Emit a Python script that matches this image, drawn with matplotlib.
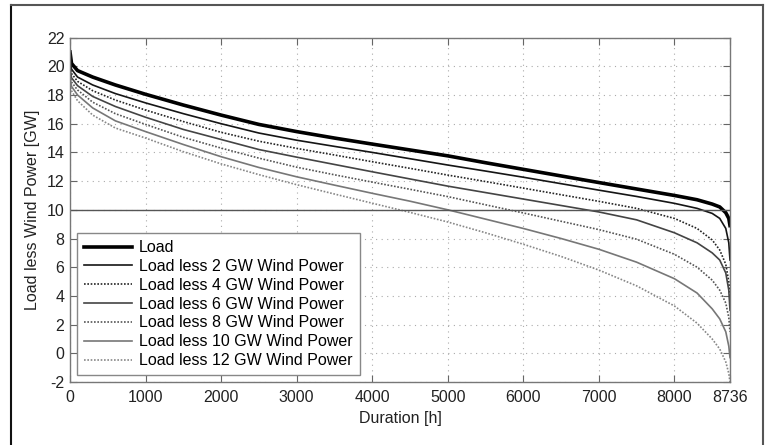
import matplotlib
matplotlib.use("Agg")
import matplotlib.pyplot as plt
from matplotlib.lines import Line2D

plt.rcParams['font.family'] = ['Liberation Sans', 'DejaVu Sans']
plt.rcParams['axes.unicode_minus'] = False

hours = [0, 20, 100, 300, 600, 1000, 1500, 2000, 2500, 3000, 3500, 4000, 4500,
         5000, 5500, 6000, 6500, 7000, 7500, 8000, 8300, 8500, 8600, 8680, 8720, 8736]

load = [21.0, 20.2, 19.7, 19.25, 18.7, 18.05, 17.3, 16.6, 15.95, 15.45, 15.0, 14.58, 14.17,
        13.76, 13.28, 12.82, 12.36, 11.9, 11.45, 11.0, 10.7, 10.4, 10.2, 9.8, 9.4, 8.9]
less2 = [20.5, 19.8, 19.25, 18.7, 18.1, 17.45, 16.7, 16.0, 15.35, 14.85, 14.42, 14.0, 13.56,
         13.12, 12.7, 12.27, 11.82, 11.37, 10.93, 10.45, 10.1, 9.75, 9.4, 8.7, 7.7, 6.5]
less4 = [20.2, 19.5, 18.95, 18.3, 17.65, 16.95, 16.15, 15.4, 14.78, 14.28, 13.82, 13.35, 12.89,
         12.42, 11.97, 11.51, 11.05, 10.59, 10.1, 9.4, 8.7, 7.9, 7.2, 6.2, 5.0, 4.0]
less6 = [19.9, 19.2, 18.65, 17.9, 17.2, 16.45, 15.6, 14.9, 14.2, 13.67, 13.16, 12.65, 12.15,
         11.65, 11.2, 10.75, 10.3, 9.85, 9.3, 8.4, 7.7, 7.0, 6.5, 5.6, 4.4, 3.0]
less8 = [19.6, 18.9, 18.35, 17.5, 16.7, 15.95, 15.05, 14.3, 13.6, 12.97, 12.44, 11.93, 11.43,
         10.92, 10.35, 9.78, 9.2, 8.62, 7.95, 6.9, 6.0, 5.1, 4.4, 3.5, 2.5, 1.5]
less10 = [19.3, 18.6, 18.0, 17.1, 16.2, 15.45, 14.55, 13.7, 12.95, 12.3, 11.72, 11.15, 10.6,
          10.0, 9.35, 8.7, 8.0, 7.25, 6.35, 5.2, 4.2, 3.1, 2.4, 1.5, 0.5, -0.3]
less12 = [19.0, 18.3, 17.6, 16.6, 15.7, 15.0, 14.05, 13.2, 12.45, 11.75, 11.1, 10.46, 9.82,
          9.15, 8.4, 7.6, 6.75, 5.8, 4.7, 3.3, 2.1, 1.0, 0.3, -0.6, -1.4, -2.0]

labels = ["Load", "Load less 2 GW Wind Power", "Load less 4 GW Wind Power",
          "Load less 6 GW Wind Power", "Load less 8 GW Wind Power",
          "Load less 10 GW Wind Power", "Load less 12 GW Wind Power"]
series = [load, less2, less4, less6, less8, less10, less12]
styles = [dict(color='#000000', lw=2.6, ls='-'),
          dict(color='#151515', lw=1.2, ls='-'),
          dict(color='#252525', lw=1.2, ls=(0, (1, 1))),
          dict(color='#444444', lw=1.2, ls='-'),
          dict(color='#555555', lw=1.2, ls=(0, (1, 1))),
          dict(color='#777777', lw=1.2, ls='-'),
          dict(color='#888888', lw=1.2, ls=(0, (1, 1)))]

xticks = [0, 1000, 2000, 3000, 4000, 5000, 6000, 7000, 8000, 8736]
yticks = list(range(-2, 23, 2))

fig = plt.figure(figsize=(7.68, 4.45), dpi=100)
ax = fig.add_axes([70 / 768, 1 - 382 / 445, 660 / 768, 344.4 / 445])

for s, lab, st in zip(series, labels, styles):
    ax.plot(hours, s, label=lab, **st)

ax.axhline(10, color='#555555', lw=1.0)

ax.set_xlim(0, 8736)
ax.set_ylim(-2, 22)
ax.set_xticks(xticks)
ax.set_yticks(yticks)
ax.grid(True, ls=(0, (1, 4)), color='#aaaaaa', lw=0.8)
ax.tick_params(direction='in', top=True, right=True, length=5, color='#666666',
               labelsize=11.5, labelcolor='#222222')
ax.tick_params(axis='x', pad=6)
ax.tick_params(axis='y', pad=4)
for sp in ax.spines.values():
    sp.set_color('#777777')
    sp.set_linewidth(1.0)

ax.set_xlabel("Duration [h]", fontsize=11.5, color='#222222', labelpad=4)
ax.set_ylabel("Load less Wind Power [GW]", fontsize=11.5, color='#222222', labelpad=5)

leg = ax.legend(loc='lower left', fontsize=11.5, frameon=True, fancybox=False,
                edgecolor='#888888', framealpha=1, borderpad=0.45, labelspacing=0.24,
                handlelength=3.0, handletextpad=0.45, borderaxespad=0.42)
leg.get_frame().set_linewidth(1.0)

# outer frame of the picture
fig.add_artist(Line2D([11 / 768, 11 / 768], [0, 1 - 5 / 445], transform=fig.transFigure,
                      color='#111111', lw=1.5))
fig.add_artist(Line2D([11 / 768, 763 / 768], [1 - 5 / 445, 1 - 5 / 445],
                      transform=fig.transFigure, color='#555555', lw=1.5))
fig.add_artist(Line2D([763 / 768, 763 / 768], [0, 1 - 5 / 445], transform=fig.transFigure,
                      color='#555555', lw=1.5))

fig.savefig("out.png", dpi=100)
